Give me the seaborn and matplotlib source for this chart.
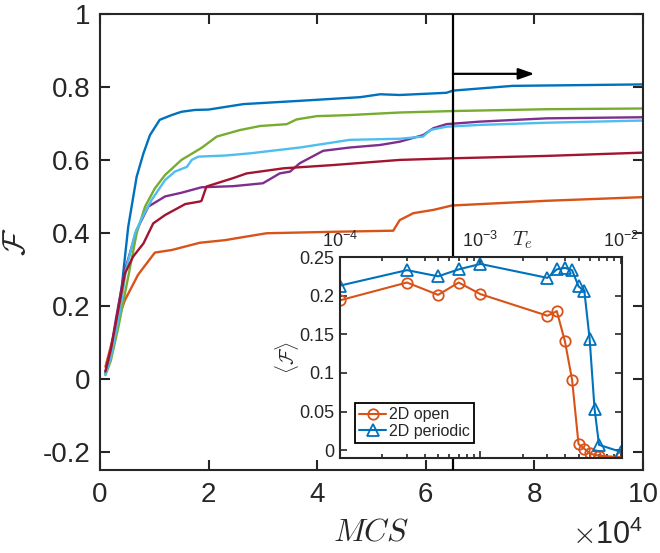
import numpy as np
import pandas as pd
import matplotlib
matplotlib.use('Agg')
import matplotlib.pyplot as plt
from matplotlib.ticker import FuncFormatter, LogLocator, NullFormatter
import seaborn as sns

# main panel: F vs MCS for six runs
blue_x = [1000, 1800, 4000, 5200, 6750, 8000, 9200, 11000, 13200, 15000, 17500, 20000, 26400, 36800, 47900, 51600, 55200, 63800, 65000, 76000, 100000]
blue_y = [0.015, 0.05, 0.252, 0.417, 0.554, 0.618, 0.668, 0.71, 0.723, 0.732, 0.737, 0.738, 0.753, 0.762, 0.772, 0.780, 0.778, 0.784, 0.790, 0.803, 0.807]

orange_x = [1000, 2000, 3000, 4600, 7000, 10100, 13200, 18400, 23000, 27000, 30700, 43000, 54000, 55200, 57700, 61400, 64800, 82300, 100000]
orange_y = [0.033, 0.09, 0.15, 0.216, 0.285, 0.346, 0.353, 0.373, 0.38, 0.39, 0.399, 0.403, 0.406, 0.435, 0.454, 0.463, 0.475, 0.488, 0.498]

purple_x = [1000, 2000, 3000, 4600, 6750, 8900, 12000, 15000, 18700, 24500, 30000, 33100, 35000, 36800, 41100, 46000, 51600, 55200, 59500, 61400, 63800, 70000, 82300, 100000]
purple_y = [0.02, 0.08, 0.17, 0.298, 0.408, 0.472, 0.50, 0.51, 0.525, 0.528, 0.536, 0.563, 0.568, 0.591, 0.625, 0.634, 0.641, 0.65, 0.668, 0.687, 0.698, 0.705, 0.714, 0.717]

green_x = [1000, 2000, 3400, 5200, 6750, 8300, 10100, 12000, 15000, 18700, 21500, 25800, 29500, 34400, 36200, 39900, 46000, 55200, 65000, 82300, 100000]
green_y = [0.01, 0.05, 0.143, 0.28, 0.399, 0.472, 0.522, 0.559, 0.600, 0.633, 0.664, 0.682, 0.693, 0.698, 0.711, 0.720, 0.723, 0.730, 0.734, 0.739, 0.741]

lblue_x = [1000, 2000, 3500, 4800, 6450, 7700, 9500, 12000, 13800, 16000, 16900, 18100, 23000, 27600, 36800, 46000, 55200, 59500, 60800, 63800, 70000, 82300, 100000]
lblue_y = [0.012, 0.06, 0.17, 0.30, 0.399, 0.44, 0.49, 0.545, 0.568, 0.581, 0.600, 0.609, 0.612, 0.618, 0.634, 0.655, 0.658, 0.664, 0.682, 0.691, 0.696, 0.702, 0.708]

red_x = [1000, 2000, 3000, 4600, 6100, 8000, 9800, 12000, 15700, 18400, 18700, 19600, 23000, 24500, 27000, 33800, 43000, 55200, 63800, 82300, 100000]
red_y = [0.02, 0.08, 0.16, 0.289, 0.335, 0.371, 0.426, 0.449, 0.479, 0.486, 0.488, 0.527, 0.543, 0.55, 0.563, 0.577, 0.586, 0.600, 0.604, 0.611, 0.620]

# inset: <F> vs T_e
te = [1e-4, 3e-4, 5e-4, 7e-4, 1e-3, 3e-3, 3.5e-3, 4e-3, 4.5e-3, 5e-3, 5.5e-3, 6e-3, 6.5e-3, 7e-3, 1e-2]
f_open = [0.194, 0.217, 0.201, 0.217, 0.202, 0.174, 0.180, 0.141, 0.091, 0.008, 0.002, -0.004, -0.006, -0.007, -0.009]
f_periodic = [0.213, 0.233, 0.225, 0.234, 0.241, 0.223, 0.234, 0.236, 0.233, 0.212, 0.206, 0.144, 0.054, 0.007, -0.002]

colors = {'blue': '#0072BD', 'orange': '#D95319', 'purple': '#7E2F8E',
          'green': '#77AC30', 'lblue': '#4DBEEE', 'red': '#A2142F'}
runs = {'blue': (blue_x, blue_y), 'orange': (orange_x, orange_y),
        'purple': (purple_x, purple_y), 'green': (green_x, green_y),
        'lblue': (lblue_x, lblue_y), 'red': (red_x, red_y)}

df = pd.concat([pd.DataFrame({'MCS': x, 'F': y, 'run': k}) for k, (x, y) in runs.items()],
               ignore_index=True)

sns.set_style('ticks')
plt.rcParams['font.family'] = ['Liberation Sans', 'DejaVu Sans']
plt.rcParams['mathtext.fontset'] = 'cm'
dark = '#262626'

fig = plt.figure(figsize=(6.6, 5.53), dpi=100)
ax = fig.add_axes([100/660, 83/553, 543/660, 456/553])

sns.lineplot(data=df, x='MCS', y='F', hue='run', palette=colors, hue_order=list(runs),
             estimator=None, sort=False, legend=False, lw=1.7, ax=ax)

ax.axvline(6.5e4, color='k', lw=1.6, zorder=4)
ax.annotate('', xy=(8.0e4, 0.836), xytext=(6.5e4, 0.836),
            arrowprops=dict(arrowstyle='-|>,head_length=0.8,head_width=0.28',
                            lw=1.6, color='k', mutation_scale=12, shrinkA=0, shrinkB=0))

ax.set_xlim(0, 1e5)
ax.set_ylim(-0.25, 1)
ax.set_xticks([0, 2e4, 4e4, 6e4, 8e4, 1e5])
ax.set_yticks([-0.2, 0, 0.2, 0.4, 0.6, 0.8, 1])
ax.yaxis.set_major_formatter(FuncFormatter(lambda v, _: f'{v:g}'))
ax.xaxis.set_major_formatter(FuncFormatter(lambda v, _: f'{v/1e4:g}'))
ax.tick_params(direction='in', length=7, width=1.5, top=True, right=True,
               labelsize=20, colors=dark)
ax.tick_params(axis='x', pad=9)
ax.tick_params(axis='y', pad=7)
for s in ax.spines.values():
    s.set_linewidth(1.5)
    s.set_color(dark)
fig.text(643/660, 2/553, r'$\times\mathdefault{10^{4}}$', fontsize=22, color=dark,
         ha='right', va='bottom')

ax.set_xlabel(r'$MCS$', fontsize=23, color=dark)
ax.xaxis.set_label_coords(0.5, -0.105)
ax.set_ylabel(r'$\mathcal{F}$', fontsize=23, color=dark, va='center')
ax.yaxis.set_label_coords(-0.152, 0.5)

# inset
ins = fig.add_axes([340/660, 95/553, 282/660, 201/553])
ins.set_facecolor('white')
sns.lineplot(x=te, y=f_open, ax=ins, color=colors['orange'], lw=1.5, marker='o',
             markersize=7.5, markerfacecolor='none', markeredgecolor=colors['orange'],
             markeredgewidth=1.3, label='2D open')
sns.lineplot(x=te, y=f_periodic, ax=ins, color=colors['blue'], lw=1.5, marker='^',
             markersize=8.5, markerfacecolor='none', markeredgecolor=colors['blue'],
             markeredgewidth=1.3, label='2D periodic')
ins.set_xscale('log')
ins.set_xlim(1e-4, 1.02e-2)
ins.set_ylim(-0.01, 0.25)
ins.set_xticks([1e-4, 1e-3, 1e-2])
ins.xaxis.set_minor_locator(LogLocator(base=10, subs=np.arange(2, 10)))
ins.xaxis.set_minor_formatter(NullFormatter())
ins.set_yticks([0, 0.05, 0.1, 0.15, 0.2, 0.25])
ins.yaxis.set_major_formatter(FuncFormatter(lambda v, _: f'{v:g}'))
ins.tick_params(which='both', direction='in', top=True, bottom=True, left=True, right=True,
                labeltop=True, labelbottom=False, width=1.2, colors=dark, labelsize=13)
ins.tick_params(which='major', length=5, pad=4)
ins.tick_params(which='minor', length=3)
for s in ins.spines.values():
    s.set_linewidth(1.5)
    s.set_color(dark)
ins.set_xlabel('')
ins.text(0.645, 1.085, r'$T_e$', transform=ins.transAxes, fontsize=15,
         ha='center', va='center', color=dark)
ins.set_ylabel(r'$\langle\mathcal{F}\rangle$', fontsize=14, color=dark, va='center')
ins.yaxis.set_label_coords(-0.188, 0.5)
leg = ins.legend(loc='lower left', bbox_to_anchor=(0.053, 0.075), borderaxespad=0,
                 fontsize=11.5, frameon=True, fancybox=False, framealpha=1,
                 edgecolor='k', handlelength=1.7, handletextpad=0.2,
                 labelspacing=0.1, borderpad=0.25)
leg.get_frame().set_linewidth(1.3)

fig.savefig('out.png', dpi=100)
